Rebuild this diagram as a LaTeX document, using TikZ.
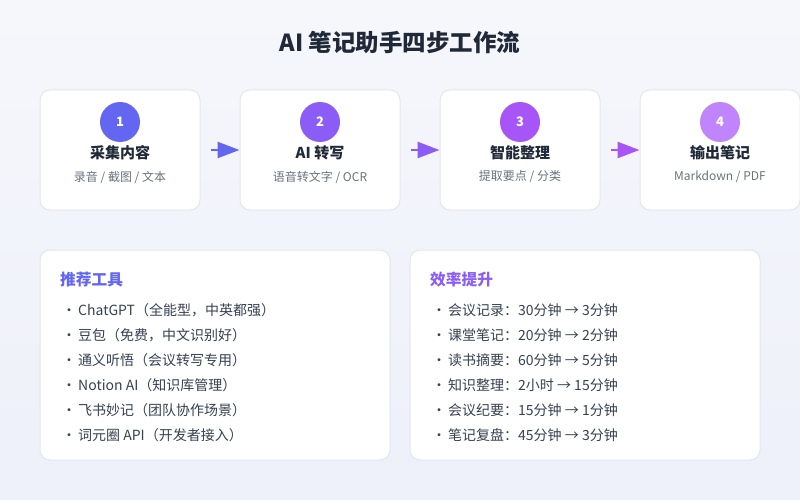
\documentclass[tikz,border=0pt]{standalone}
\usepackage{fontspec}
\setmainfont{Noto Sans CJK SC}
\usetikzlibrary{arrows.meta}
\definecolor{bgA}{HTML}{F6F7FB}
\definecolor{bgB}{HTML}{EEF0FA}
\definecolor{boxline}{HTML}{E3E6EE}
\definecolor{cA}{HTML}{6366F1}
\definecolor{cB}{HTML}{8B5CF6}
\definecolor{cC}{HTML}{A855F7}
\definecolor{cD}{HTML}{C084FC}
\definecolor{dark}{HTML}{1F2937}
\definecolor{txt}{HTML}{374151}
\definecolor{sub}{HTML}{6B7280}
\tikzset{
  card/.style={draw=boxline, line width=1pt, fill=white, rounded corners=10pt},
  numdot/.style={circle, minimum size=40pt, inner sep=0pt, text=white, font=\fontsize{13}{15}\selectfont\bfseries},
  steptitle/.style={font=\fontsize{15}{18}\selectfont\bfseries, text=dark, inner sep=0pt},
  stepsub/.style={font=\fontsize{12}{14}\selectfont, text=sub, inner sep=0pt},
  ptitle/.style={font=\fontsize{15.7}{18}\selectfont\bfseries, anchor=west, inner sep=0pt},
  item/.style={font=\fontsize{14}{16}\selectfont, text=txt, anchor=west, inner sep=0pt},
  flow/.style={line width=2.5pt, -{Triangle[length=22pt,width=16pt]}}
}
\begin{document}
\begin{tikzpicture}[x=1pt,y=-1pt]
\useasboundingbox (0,0) rectangle (800,500);
\shade[top color=bgA, bottom color=bgB] (0,0) rectangle (800,500);
\node[font=\fontsize{23.5}{27}\selectfont\bfseries, text=dark, inner sep=0pt] (title) at (400,42) {AI 笔记助手四步工作流};
% step cards
\foreach \i/\x/\c/\t/\s in {1/120/cA/{采集内容}/{录音 / 截图 / 文本}, 2/320/cB/{AI 转写}/{语音转文字 / OCR}, 3/520/cC/{智能整理}/{提取要点 / 分类}, 4/720/cD/{输出笔记}/{Markdown / PDF}}{
  \node[card, minimum width=160pt, minimum height=120pt] (card\i) at (\x,150) {};
  \node[numdot, fill=\c] (num\i) at (\x,122) {\i};
  \node[steptitle] (t\i) at (\x,153) {\t};
  \node[stepsub] (s\i) at (\x,177) {\s};
}
\draw[flow, cA] ([xshift=10pt]card1.east) -- (card2.west);
\draw[flow, cB] ([xshift=10pt]card2.east) -- (card3.west);
\draw[flow, cC] ([xshift=10pt]card3.east) -- (card4.west);
% panels
\node[card, minimum width=350pt, minimum height=210pt] (left) at (215,355) {};
\node[card, minimum width=350pt, minimum height=210pt] (right) at (585,355) {};
\node[ptitle, text=cA] (lt) at (60,280) {推荐工具};
\node[ptitle, text=cB] (rt) at (430,280) {效率提升};
\foreach \k/\y/\t in {1/310/{ChatGPT（全能型，中英都强）}, 2/335/{豆包（免费，中文识别好）}, 3/360/{通义听悟（会议转写专用）}, 4/385/{Notion AI（知识库管理）}, 5/410/{飞书妙记（团队协作场景）}, 6/435/{词元圈 API（开发者接入）}}{
  \node[item] (li\k) at (62,\y) {·\hspace{2pt}\t};
}
\foreach \k/\y/\t in {1/310/{会议记录：30分钟 → 3分钟}, 2/335/{课堂笔记：20分钟 → 2分钟}, 3/360/{读书摘要：60分钟 → 5分钟}, 4/385/{知识整理：2小时 → 15分钟}, 5/410/{会议纪要：15分钟 → 1分钟}, 6/435/{笔记复盘：45分钟 → 3分钟}}{
  \node[item] (ri\k) at (432,\y) {·\hspace{2pt}\t};
}
\end{tikzpicture}
\end{document}
